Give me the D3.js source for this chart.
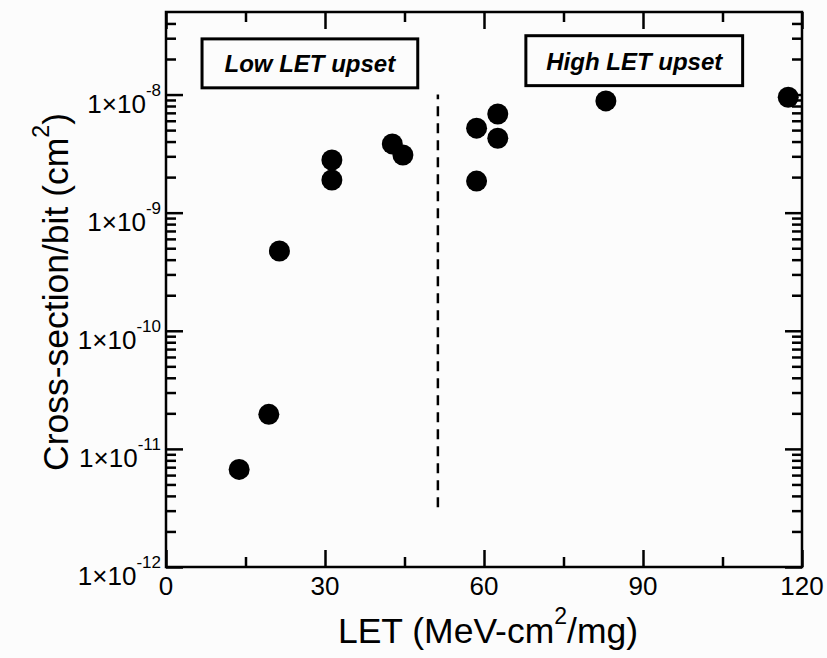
<!DOCTYPE html>
<html>
<head>
<meta charset="utf-8">
<script src="https://cdn.jsdelivr.net/npm/d3@7"></script>
<style>
  html, body { margin: 0; padding: 0; background: #fcfcfc; }
  svg { display: block; }
  text { font-family: "Liberation Sans", Arial, Helvetica, sans-serif; fill: #000; }
</style>
</head>
<body>
<svg id="chart" width="827" height="658"></svg>
<script>
// ---- data ----
const letValues    = [13.8, 19.4, 21.4, 31.3, 31.3, 42.7, 44.7, 58.6, 58.6, 62.6, 62.6, 83.0, 117.4];
const crossSection = [6.7e-12, 1.96e-11, 4.74e-10, 1.89e-9, 2.79e-9, 3.82e-9, 3.08e-9, 5.19e-9, 1.85e-9, 6.85e-9, 4.27e-9, 8.83e-9, 9.49e-9];
const xMajorTicks = [0, 30, 60, 90, 120];
const xMinorTicks = [15, 45, 75, 105];
const yMajorExponents = [-12, -11, -10, -9, -8];
const yMinorTicks = [];
[-12, -11, -10, -9].forEach(e => { for (let m = 2; m <= 9; m++) yMinorTicks.push(m * Math.pow(10, e)); });
[2, 3, 4].forEach(m => yMinorTicks.push(m * 1e-8));
const xDomain = [0, 120];
const yDomain = [1e-12, 5e-8];
const dividerLET = 51.3;
const dividerRange = [3.2e-12, 1e-8];
const annotationLabels = ["Low LET upset", "High LET upset"];
const annotationX = [[6.8, 47.5], [67.9, 108.8]];
const annotationY = [[2.96e-8, 1.14e-8], [3.15e-8, 1.19e-8]];
const xTitle = "LET (MeV-cm";
const yTitle = "Cross-section/bit (cm";

// ---- layout ----
const W = 827, H = 658;
const margin = { left: 166, top: 12, right: 25, bottom: 91 };
const svg = d3.select("#chart");
const x = d3.scaleLinear().domain(xDomain).range([margin.left, W - margin.right]);
const y = d3.scaleLog().domain(yDomain).range([H - margin.bottom, margin.top]);

const MAJ = 17, MIN = 10;
function styleAxis(g) {
  g.select(".domain").remove();
  g.selectAll(".tick line").attr("stroke", "#000").attr("stroke-width", 2.5);
  g.selectAll(".tick text").remove();
}
// bottom / top axes
svg.append("g").attr("transform", `translate(0,${y.range()[0]})`)
  .call(d3.axisBottom(x).tickValues(xMajorTicks).tickSize(-MAJ)).call(styleAxis);
svg.append("g").attr("transform", `translate(0,${y.range()[0]})`)
  .call(d3.axisBottom(x).tickValues(xMinorTicks).tickSize(-MIN)).call(styleAxis);
svg.append("g").attr("transform", `translate(0,${y.range()[1]})`)
  .call(d3.axisTop(x).tickValues(xMajorTicks).tickSize(-MAJ)).call(styleAxis);
svg.append("g").attr("transform", `translate(0,${y.range()[1]})`)
  .call(d3.axisTop(x).tickValues(xMinorTicks).tickSize(-MIN)).call(styleAxis);
// left / right axes
const yMajorVals = yMajorExponents.map(e => Math.pow(10, e));
svg.append("g").attr("transform", `translate(${x.range()[0]},0)`)
  .call(d3.axisLeft(y).tickValues(yMajorVals).tickSize(-MAJ)).call(styleAxis);
svg.append("g").attr("transform", `translate(${x.range()[0]},0)`)
  .call(d3.axisLeft(y).tickValues(yMinorTicks).tickSize(-MIN)).call(styleAxis);
svg.append("g").attr("transform", `translate(${x.range()[1]},0)`)
  .call(d3.axisRight(y).tickValues(yMajorVals).tickSize(-MAJ)).call(styleAxis);
svg.append("g").attr("transform", `translate(${x.range()[1]},0)`)
  .call(d3.axisRight(y).tickValues(yMinorTicks).tickSize(-MIN)).call(styleAxis);

// frame
svg.append("rect")
  .attr("x", x.range()[0]).attr("y", y.range()[1])
  .attr("width", x.range()[1] - x.range()[0])
  .attr("height", y.range()[0] - y.range()[1])
  .attr("fill", "none").attr("stroke", "#000").attr("stroke-width", 2.5);

// x tick labels
svg.append("g").selectAll("text").data(xMajorTicks).join("text")
  .attr("x", d => x(d)).attr("y", y.range()[0] + 28)
  .attr("text-anchor", "middle").attr("font-size", 26)
  .text(d => d);

// y tick labels: 1×10^e
const yl = svg.append("g").selectAll("text").data(yMajorExponents).join("text")
  .attr("x", x.range()[0] - 5).attr("y", d => y(Math.pow(10, d)) + 18)
  .attr("text-anchor", "end").attr("font-size", 26);
yl.append("tspan").text("1×10");
yl.append("tspan").attr("font-size", 17).attr("dy", -17).text(d => d);

// axis titles
const xt = svg.append("text")
  .attr("x", (x.range()[0] + x.range()[1]) / 2 + 4).attr("y", 643)
  .attr("text-anchor", "middle").attr("font-size", 35.5);
xt.append("tspan").text(xTitle);
xt.append("tspan").attr("font-size", 23).attr("dy", -19).text("2");
xt.append("tspan").attr("dy", 19).text("/mg)");

const yt = svg.append("text")
  .attr("transform", `translate(68,292) rotate(-90)`)
  .attr("text-anchor", "middle").attr("font-size", 35.5);
yt.append("tspan").text(yTitle);
yt.append("tspan").attr("font-size", 23).attr("dy", -19).text("2");
yt.append("tspan").attr("dy", 19).text(")");

// dashed divider
svg.append("line")
  .attr("x1", x(dividerLET)).attr("x2", x(dividerLET))
  .attr("y1", y(dividerRange[0])).attr("y2", y(dividerRange[1]))
  .attr("stroke", "#000").attr("stroke-width", 2.5)
  .attr("stroke-dasharray", "10,7");

// annotation boxes
annotationLabels.forEach((lab, i) => {
  const x0 = x(annotationX[i][0]), x1 = x(annotationX[i][1]);
  const y0 = y(annotationY[i][0]), y1 = y(annotationY[i][1]);
  svg.append("rect").attr("x", x0).attr("y", y0)
    .attr("width", x1 - x0).attr("height", y1 - y0)
    .attr("fill", "#fcfcfc").attr("stroke", "#000").attr("stroke-width", 3);
  svg.append("text").attr("x", (x0 + x1) / 2).attr("y", (y0 + y1) / 2 + 9)
    .attr("text-anchor", "middle").attr("font-size", 24)
    .attr("font-weight", "bold").attr("font-style", "italic")
    .text(lab);
});

// points
svg.append("g").selectAll("circle").data(letValues.map((v, i) => [v, crossSection[i]])).join("circle")
  .attr("cx", d => x(d[0])).attr("cy", d => y(d[1])).attr("r", 10.5).attr("fill", "#000");
</script>
</body>
</html>
